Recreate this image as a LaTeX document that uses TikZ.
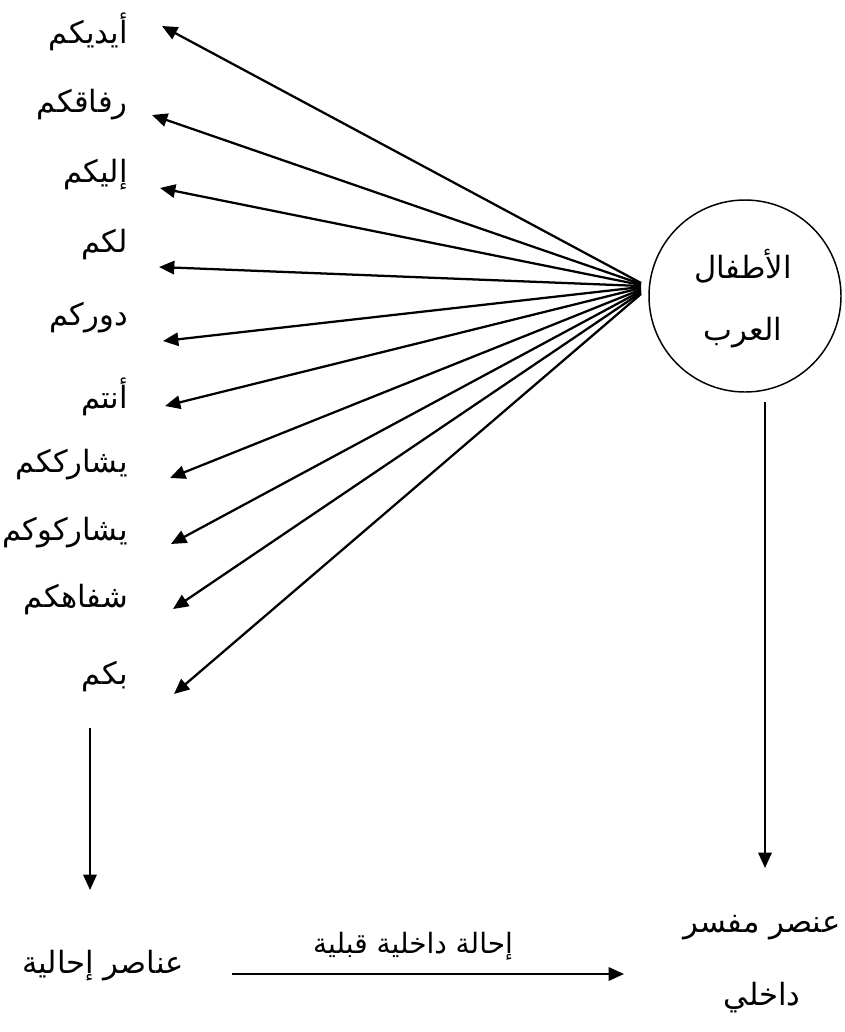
\documentclass[tikz,border=0pt]{standalone}
\usepackage{fontspec}
\usetikzlibrary{arrows.meta}
\TeXXeTstate=1
\newfontfamily\arabicfont[Script=Arabic]{DejaVu Sans}
\begin{document}
\begin{tikzpicture}[x=0.75pt,y=-0.75pt,
  lbl/.style={font=\arabicfont\fontsize{23}{27}\selectfont, inner sep=0pt},
  wlbl/.style={lbl, anchor=east},
  arr/.style={line width=1.7pt, -{Triangle[length=11.5pt,width=10pt]}}]
\useasboundingbox (0,0) rectangle (844,1032);
% circle
\node[circle, draw, line width=1.1pt, minimum size=144pt, inner sep=0pt] (hub) at (745,296) {};
\node[lbl] (t1) at (743,266) {\beginR الأطفال\endR};
\node[lbl] (t2) at (743,333) {\beginR العرب\endR};
% word labels
\node[wlbl] (w1) at (128,32) {\beginR أيديكم\endR};
\node[wlbl] (w2) at (128,105) {\beginR رفاقكم\endR};
\node[wlbl] (w3) at (128,175) {\beginR إليكم\endR};
\node[wlbl] (w4) at (128,245) {\beginR لكم\endR};
\node[wlbl] (w5) at (128,318) {\beginR دوركم\endR};
\node[wlbl] (w6) at (128,397) {\beginR أنتم\endR};
\node[wlbl] (w7) at (128,465) {\beginR يشارككم\endR};
\node[wlbl] (w8) at (128,533) {\beginR يشاركوكم\endR};
\node[wlbl] (w9) at (128,600) {\beginR شفاهكم\endR};
\node[wlbl] (w10) at (128,677) {\beginR بكم\endR};
% arrow tips
\coordinate (e1) at (162,26);
\coordinate (e2) at (152,115);
\coordinate (e3) at (160,188);
\coordinate (e4) at (159,267);
\coordinate (e5) at (163,341);
\coordinate (e6) at (165,406);
\coordinate (e7) at (170,478);
\coordinate (e8) at (171,544);
\coordinate (e9) at (173,609);
\coordinate (e10) at (174,694);
% start points
\foreach \i/\yy in {1/283,2/284,3/285,4/286,5/287,6/288,7/289.5,8/291,9/292.5,10/294}
  \coordinate (s\i) at (641,\yy);
\foreach \i in {1,...,10}
  \draw[arr] (s\i) -- (e\i);
% bottom
\node[lbl] (ref) at (103,966) {\beginR عناصر إحالية\endR};
\node[lbl] (int1) at (762,928) {\beginR عنصر مفسر\endR};
\node[lbl] (int2) at (762,998) {\beginR داخلي\endR};
\node[lbl, font=\arabicfont\fontsize{21}{25}\selectfont] (mid) at (413,946) {\beginR إحالة داخلية قبلية\endR};
\coordinate (la) at (90,728);
\coordinate (lb) at (90,890);
\coordinate (ra) at (765,402);
\coordinate (rb) at (765,868);
\coordinate (ha) at (232,974);
\coordinate (hb) at (624,974);
\draw[arr] (la) -- (lb);
\draw[arr] (ra) -- (rb);
\draw[arr] (ha) -- (hb);
\end{tikzpicture}
\end{document}
